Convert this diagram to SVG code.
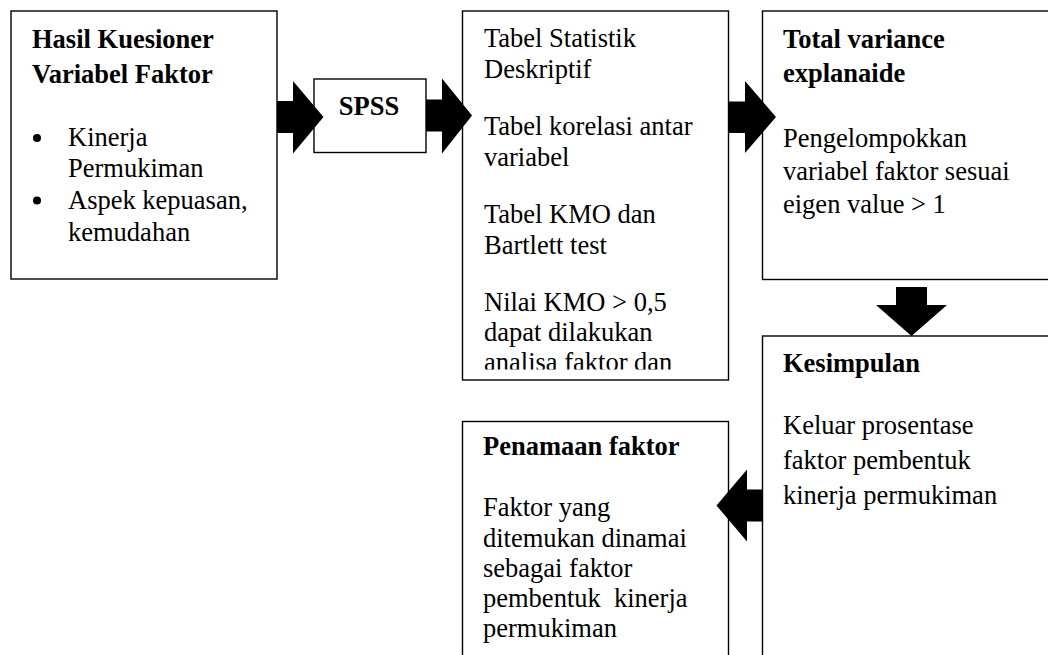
<svg xmlns="http://www.w3.org/2000/svg" width="1048" height="655" viewBox="0 0 1048 655">
<style>
.box{fill:#fff;stroke:#000;stroke-width:1.4}
.t{font-family:"Liberation Serif","Times New Roman",serif;font-size:26.5px;fill:#000}
.b{font-weight:bold}
.arr{fill:#000;stroke:none}
</style>
<defs>
<clipPath id="clip3"><rect x="462" y="12" width="266" height="357.5"/></clipPath>
</defs>
<rect width="1048" height="655" fill="#fff"/>
<g id="node-hasil">
<rect class="box" x="11" y="11" width="266" height="268"/>
<text class="t b" x="32" y="48">Hasil Kuesioner</text>
<text class="t b" x="32" y="82.5">Variabel Faktor</text>
<circle cx="37" cy="138" r="4"/>
<text class="t" x="68" y="146">Kinerja</text>
<text class="t" x="68" y="176.5">Permukiman</text>
<circle cx="37" cy="200.5" r="4"/>
<text class="t" x="68" y="208.5">Aspek kepuasan,</text>
<text class="t" x="68" y="240.5">kemudahan</text>
</g>
<g id="node-spss">
<rect class="box" x="314" y="79" width="112" height="73.5"/>
<text class="t b" x="369" y="114.5" text-anchor="middle">SPSS</text>
</g>
<g id="node-tabel">
<rect class="box" x="462.5" y="11" width="266" height="369"/>
<g clip-path="url(#clip3)">
<text class="t" x="484" y="46.5">Tabel Statistik</text>
<text class="t" x="484" y="77.5">Deskriptif</text>
<text class="t" x="484" y="135">Tabel korelasi antar</text>
<text class="t" x="484" y="165.5">variabel</text>
<text class="t" x="484" y="222.5">Tabel KMO dan</text>
<text class="t" x="484" y="254">Bartlett test</text>
<text class="t" x="484" y="311">Nilai KMO &gt; 0,5</text>
<text class="t" x="484" y="340.5">dapat dilakukan</text>
<text class="t" x="484" y="371">analisa faktor dan</text>
</g>
</g>
<g id="node-total">
<rect class="box" x="762.5" y="11" width="300" height="268.5"/>
<text class="t b" x="783" y="47.5">Total variance</text>
<text class="t b" x="783" y="81.5">explanaide</text>
<text class="t" x="783" y="147">Pengelompokkan</text>
<text class="t" x="783" y="180">variabel faktor sesuai</text>
<text class="t" x="783" y="213">eigen value &gt; 1</text>
</g>
<g id="node-kesimpulan">
<rect class="box" x="762.5" y="336" width="300" height="340"/>
<text class="t b" x="783" y="371.5">Kesimpulan</text>
<text class="t" x="783" y="433.5">Keluar prosentase</text>
<text class="t" x="783" y="468.5">faktor pembentuk</text>
<text class="t" x="783" y="503.5">kinerja permukiman</text>
</g>
<g id="node-penamaan">
<rect class="box" x="462.5" y="421.5" width="266" height="260"/>
<text class="t b" x="483" y="454.5">Penamaan faktor</text>
<text class="t" x="483" y="516">Faktor yang</text>
<text class="t" x="483" y="546.5">ditemukan dinamai</text>
<text class="t" x="483" y="576.5">sebagai faktor</text>
<text class="t" x="483" y="606.5" xml:space="preserve">pembentuk  kinerja</text>
<text class="t" x="483" y="636.5">permukiman</text>
</g>
<g id="connectors">
<polygon class="arr" points="277,101 293,101 293,81 323.5,117 293,153.5 293,133 277,133"/>
<polygon class="arr" points="426,99.5 442,99.5 442,78.5 472,115.5 442,153.5 442,131.5 426,131.5"/>
<polygon class="arr" points="728.5,101.5 745,101.5 745,81 776,117 745,153 745,133 728.5,133"/>
<polygon class="arr" points="896,287 927,287 927,305 947,305 911.5,336 876,305 896,305"/>
<polygon class="arr" points="762.5,489.5 747,489.5 747,469.5 716.5,505.5 747,541.5 747,521.5 762.5,521.5"/>
</g>
</svg>
